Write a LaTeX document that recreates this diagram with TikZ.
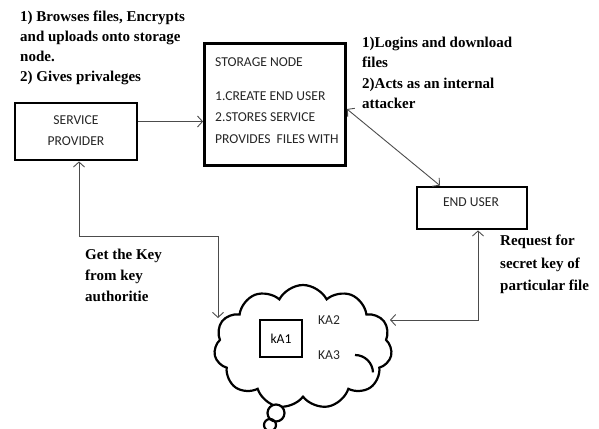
\documentclass[tikz,border=0pt]{standalone}
\usepackage{fontspec}
\setmainfont{Liberation Serif}
\newfontfamily\boxfont{Carlito}
\usetikzlibrary{arrows.meta,shapes.symbols}
\begin{document}
\begin{tikzpicture}[x=1pt,y=-1pt,
  box/.style={draw=black,line width=2.8pt,inner sep=0pt,rectangle},
  arr/.style={draw=black!70,line width=0.9pt},
  btext/.style={font=\boxfont\fontsize{13.6}{21.5}\selectfont,inner sep=0pt,text=black!85},
  ltext/.style={font=\bfseries\fontsize{15}{19.8}\selectfont,align=left,inner sep=0pt,anchor=north west}]
\useasboundingbox (0,0) rectangle (599,428);
% boxes
\node[box,minimum width=122pt,minimum height=57pt] (sp) at (76,131.5) {};
\node[box,minimum width=141pt,minimum height=122pt] (sn) at (275,104.5) {};
\node[box,minimum width=110pt,minimum height=42pt] (eu) at (472,208) {};
% box texts
\node[btext] (sp1) at (76,120) {SERVICE};
\node[btext] (sp2) at (76,141) {PROVIDER};
\node[btext,anchor=west] (sn1) at (215,62) {STORAGE NODE};
\node[btext,anchor=north west,align=left] (sn2) at (215,91) {1.CREATE END USER\\2.STORES SERVICE\\PROVIDES\hspace{0.45em}FILES WITH};
\node[btext] (eu1) at (471,202) {END USER};
% labels
\node[ltext] (t1) at (20,11) {1) Browses files, Encrypts\\and uploads onto storage\\node.\\2) Gives privaleges};
\node[ltext,font=\bfseries\fontsize{15}{20.3}\selectfont] (t2) at (362,37) {1)Logins and download\\files\\2)Acts as an internal\\attacker};
\node[ltext,font=\bfseries\fontsize{15}{21}\selectfont] (t3) at (85,249) {Get the Key\\from key\\authoritie};
\node[ltext,font=\bfseries\fontsize{15}{22.5}\selectfont] (t4) at (500,235) {Request for\\secret key of\\particular file};
% cloud
\node[cloud,draw=black,line width=2.2pt,cloud puffs=11,cloud puff arc=125,aspect=1.45,
  minimum width=178pt,minimum height=124pt,inner sep=0pt] (cl) at (303,347) {};
\draw[line width=2.2pt] (355,355) arc[start angle=270,end angle=358,radius=18];
\node[draw=black,line width=2.2pt,circle,minimum size=17pt,inner sep=0pt,fill=white] (b1) at (276,413) {};
\node[draw=black,line width=2.2pt,circle,minimum size=12pt,inner sep=0pt] (b2) at (270,425) {};
\node[box,line width=2.6pt,minimum width=42pt,minimum height=37pt,font=\boxfont\fontsize{13.6}{16}\selectfont] (ka1) at (281,338.5) {kA1};
\node[btext] (ka2) at (329,320) {KA2};
\node[btext] (ka3) at (329,355) {KA3};
% connectors
\coordinate (c1) at (0,121.5);
\draw[arr,-{Straight Barb[length=5pt,width=11pt]}] (sp.east |- c1) -- (sn.west |- c1);
\coordinate (c2) at (0,109);
\coordinate (e2) at (440,0);
\draw[arr,{Straight Barb[length=5pt,width=11pt]}-{Straight Barb[length=5pt,width=11pt]}] (sn.east |- c2) -- (e2 |- eu.north);
\coordinate (c3) at (79,236);
\coordinate (c4) at (218,236);
\coordinate (c5) at (218,318);
\draw[arr,{Straight Barb[length=5pt,width=11pt]}-{Straight Barb[length=5pt,width=11pt]}] (sp.south -| c3) -- (c3) -- (c4) -- (c5);
\coordinate (c6) at (478,320);
\coordinate (c7) at (390,320);
\draw[arr,{Straight Barb[length=5pt,width=11pt]}-{Straight Barb[length=5pt,width=11pt]}] (eu.south -| c6) -- (c6) -- (c7);
\end{tikzpicture}
\end{document}
